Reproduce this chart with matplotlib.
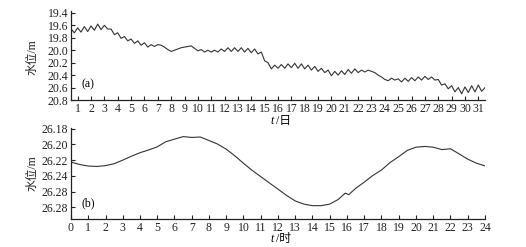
import numpy as np
import matplotlib
matplotlib.use("Agg")
import matplotlib.pyplot as plt

plt.rcParams['font.family'] = ['Liberation Serif', 'Noto Sans CJK SC', 'DejaVu Sans']

# ---- data (a): water level over a month, sampled every 0.25 day ----
days_start = 0.5
days_step = 0.25
level_a = [
    19.66, 19.72, 19.64, 19.71,
    19.62, 19.70, 19.61, 19.68,
    19.58, 19.67, 19.60, 19.66,
    19.66, 19.75, 19.72, 19.81,
    19.78, 19.85, 19.82, 19.89,
    19.85, 19.92, 19.88, 19.95,
    19.91, 19.94, 19.91, 19.92,
    19.95, 19.99, 20.02, 20.00,
    19.98, 19.96, 19.95, 19.94,
    19.93, 19.97, 20.01, 19.99,
    20.03, 20.00, 20.03, 20.00,
    20.03, 19.98, 20.02, 19.96,
    20.02, 19.96, 20.02, 19.96,
    20.03, 19.97, 20.04, 19.98,
    20.06, 20.03, 20.17, 20.20,
    20.30, 20.24, 20.29, 20.23,
    20.29, 20.22, 20.28, 20.21,
    20.29, 20.22, 20.30, 20.24,
    20.32, 20.26, 20.34, 20.29,
    20.36, 20.32, 20.41, 20.34,
    20.40, 20.33, 20.39, 20.31,
    20.37, 20.30, 20.36, 20.32,
    20.35, 20.32, 20.34, 20.36,
    20.40, 20.43, 20.47, 20.49,
    20.45, 20.48, 20.46, 20.51,
    20.45, 20.50, 20.44, 20.49,
    20.43, 20.48, 20.42, 20.47,
    20.43, 20.48, 20.47, 20.56,
    20.54, 20.62, 20.57, 20.67,
    20.60, 20.70, 20.59, 20.68,
    20.57, 20.67, 20.56, 20.66,
    20.60,
]
days = days_start + days_step * np.arange(len(level_a))
xticks_a = list(range(1, 32))
yticks_a = [19.4, 19.6, 19.8, 20.0, 20.2, 20.4, 20.6, 20.8]
yticklabels_a = ["19.4", "19.6", "19.8", "20.0", "20.2", "20.4", "20.6", "20.8"]

# ---- data (b): water level over a day ----
hours = [0.0, 0.5, 1.0, 1.5, 2.0, 2.5, 3.0, 3.5, 4.0, 4.5, 5.0, 5.5, 6.0, 6.5,
         7.0, 7.5, 8.0, 8.5, 9.0, 9.5, 10.0, 10.5, 11.0, 11.5, 12.0, 12.5,
         13.0, 13.5, 14.0, 14.5, 15.0, 15.5, 15.9, 16.1, 16.5, 17.0, 17.5,
         18.0, 18.5, 19.0, 19.5, 20.0, 20.5, 21.0, 21.5, 22.0, 22.5, 23.0,
         23.5, 24.0]
level_b = [26.2225, 26.2255, 26.2275, 26.2280, 26.2270, 26.2245, 26.2200,
           26.2150, 26.2105, 26.2070, 26.2030, 26.1965, 26.1932, 26.1900,
           26.1910, 26.1905, 26.1950, 26.1995, 26.2060, 26.2145, 26.2240,
           26.2330, 26.2410, 26.2490, 26.2570, 26.2650, 26.2720, 26.2760,
           26.2780, 26.2780, 26.2760, 26.2700, 26.2620, 26.2640, 26.2560,
           26.2480, 26.2395, 26.2325, 26.2230, 26.2155, 26.2075, 26.2035,
           26.2025, 26.2035, 26.2065, 26.2055, 26.2120, 26.2187, 26.2238,
           26.2273]
xticks_b = list(range(0, 25))
yticks_b = [26.18, 26.20, 26.22, 26.24, 26.26, 26.28]
yticklabels_b = ["26.18", "26.20", "26.22", "26.24", "26.28", "26.28"]

W, H = 526, 247
fig = plt.figure(figsize=(W / 100, H / 100), dpi=100)

def px_axes(left, top, right, bottom):
    return fig.add_axes([left / W, 1 - bottom / H, (right - left) / W, (bottom - top) / H])

fs = 8.5
line_color = "#333333"

def style(ax):
    for s in ("top", "right"):
        ax.spines[s].set_visible(False)
    for s in ("left", "bottom"):
        ax.spines[s].set_linewidth(0.9)
        ax.spines[s].set_color("#222222")
    ax.tick_params(direction="in", length=3, width=0.8, labelsize=fs, pad=2,
                   colors="#222222")

def xlabel(x_px, y_px, unit):
    fig.text((x_px - 1) / W, 1 - y_px / H, "t", style="italic", ha="right",
             va="center", fontsize=fs)
    fig.text((x_px + 1) / W, 1 - y_px / H, "/" + unit, ha="left", va="center",
             fontsize=fs)

# Panel (a)
ax1 = px_axes(71, 11, 485, 100)
ax1.plot(days, level_a, color=line_color, lw=0.8)
ax1.set_xlim(0.5, 31.5)
ax1.set_ylim(20.8, 19.37)
ax1.set_xticks(xticks_a)
ax1.set_xticklabels([str(v) for v in xticks_a])
ax1.set_yticks(yticks_a)
ax1.set_yticklabels(yticklabels_a)
style(ax1)
ax1.text(0.025, 0.14, "(a)", transform=ax1.transAxes, fontsize=fs)
fig.text(33 / W, 1 - 57 / H, "水位/m", rotation=90, ha="center", va="center",
         fontsize=fs, color="#222222")
xlabel(275, 121, "日")

# Panel (b)
ax2 = px_axes(71, 128, 485, 219)
ax2.plot(hours, level_b, color=line_color, lw=0.8)
ax2.set_xlim(0, 24)
ax2.set_ylim(26.295, 26.179)
ax2.set_xticks(xticks_b)
ax2.set_xticklabels([str(v) for v in xticks_b])
ax2.set_yticks(yticks_b)
ax2.set_yticklabels(yticklabels_b)
style(ax2)
ax2.text(0.025, 0.14, "(b)", transform=ax2.transAxes, fontsize=fs)
fig.text(33 / W, 1 - 173 / H, "水位/m", rotation=90, ha="center", va="center",
         fontsize=fs, color="#222222")
xlabel(275, 239, "时")

fig.savefig("out.png", dpi=100, facecolor="white")
